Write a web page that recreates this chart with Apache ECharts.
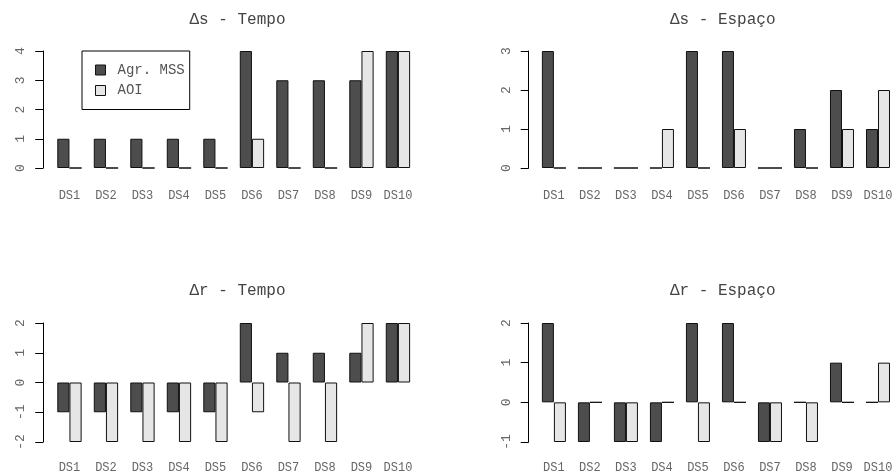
<!DOCTYPE html>
<html>
<head>
<meta charset="utf-8">
<script src="https://cdn.jsdelivr.net/npm/echarts@6/dist/echarts.min.js"></script>
<style>
html, body { margin: 0; padding: 0; background: #fff; }
#chart { width: 896px; height: 476px; }
</style>
</head>
<body>
<div id="chart"></div>
<script>
// dados
var categories = ['DS1','DS2','DS3','DS4','DS5','DS6','DS7','DS8','DS9','DS10'];
var seriesNames = ['Agr. MSS', 'AOI'];
var panelTitles = ['\u0394s - Tempo', '\u0394s - Espa\u00e7o', '\u0394r - Tempo', '\u0394r - Espa\u00e7o'];

var dsTempoMss = [1, 1, 1, 1, 1, 4, 3, 3, 3, 4];
var dsTempoAoi = [0, 0, 0, 0, 0, 1, 0, 0, 4, 4];
var dsEspacoMss = [3, 0, 0, 0, 3, 3, 0, 1, 2, 1];
var dsEspacoAoi = [0, 0, 0, 1, 0, 1, 0, 0, 1, 2];
var drTempoMss = [-1, -1, -1, -1, -1, 2, 1, 1, 1, 2];
var drTempoAoi = [-2, -2, -2, -2, -2, -1, -2, -2, 2, 2];
var drEspacoMss = [2, -1, -1, -1, 2, 2, -1, 0, 1, 0];
var drEspacoAoi = [-1, 0, -1, 0, -1, 0, -1, -1, 0, 1];

var yRanges = [[0, 4], [0, 3], [-2, 2], [-1, 2]];
var panelData = [
    [dsTempoMss, dsTempoAoi],
    [dsEspacoMss, dsEspacoAoi],
    [drTempoMss, drTempoAoi],
    [drEspacoMss, drEspacoAoi]
];

var font = '"Liberation Mono", "DejaVu Sans Mono", monospace';
var colors = ['#4d4d4d', '#e6e6e6'];

// layout dos 4 paineis
var grids = [
    {left: 51.2, top: 51, width: 365, height: 117},
    {left: 535.9, top: 51, width: 365, height: 117},
    {left: 51.2, top: 323, width: 365, height: 119},
    {left: 535.9, top: 323, width: 365, height: 119}
];
var yOffsets = [8, 7.2, 8, 7.2];
var xMargins = [22, 22, 20, 20];
var titlePos = [[232.5, 7], [717.7, 7], [232.5, 278], [717.7, 278]];

var titles = [], xAxes = [], yAxes = [], series = [];
for (var i = 0; i < 4; i++) {
    titles.push({
        text: panelTitles[i],
        left: titlePos[i][0],
        top: titlePos[i][1],
        textAlign: 'center',
        textStyle: {fontFamily: font, fontSize: 16, fontWeight: 'normal', color: '#444'}
    });
    xAxes.push({
        type: 'category',
        gridIndex: i,
        data: categories,
        axisLine: {show: false, onZero: false},
        axisTick: {show: false},
        axisLabel: {fontFamily: font, fontSize: 12, color: '#666', margin: xMargins[i], interval: 0}
    });
    yAxes.push({
        type: 'value',
        gridIndex: i,
        min: yRanges[i][0],
        max: yRanges[i][1],
        interval: 1,
        offset: yOffsets[i],
        splitLine: {show: false},
        axisLine: {show: true, lineStyle: {color: '#000', width: 1}},
        axisTick: {show: true, length: 8, lineStyle: {color: '#000', width: 1}},
        axisLabel: {fontFamily: font, fontSize: 13, color: '#666', rotate: 90, margin: 16}
    });
    for (var k = 0; k < 2; k++) {
        series.push({
            name: seriesNames[k],
            type: 'bar',
            xAxisIndex: i,
            yAxisIndex: i,
            data: panelData[i][k],
            barGap: '0%',
            barCategoryGap: '33.33%',
            itemStyle: {color: colors[k], borderColor: '#111', borderWidth: 1},
            emphasis: {disabled: true}
        });
    }
}

var myChart = echarts.init(document.getElementById('chart'), null, {renderer: 'canvas'});
var option = {
    backgroundColor: '#fff',
    animation: false,
    title: titles,
    legend: {
        data: seriesNames,
        orient: 'vertical',
        left: 82,
        top: 51,
        padding: [12, 5, 12, 13],
        itemWidth: 10,
        itemHeight: 10,
        itemGap: 6.5,
        borderColor: '#000',
        borderWidth: 1,
        icon: 'rect',
        selectedMode: false,
        itemStyle: {borderColor: '#111', borderWidth: 1},
        textStyle: {fontFamily: font, fontSize: 14, color: '#555', lineHeight: 10, padding: [0, 0, 0, 7]}
    },
    grid: grids,
    xAxis: xAxes,
    yAxis: yAxes,
    series: series
};
myChart.setOption(option);
</script>
</body>
</html>
